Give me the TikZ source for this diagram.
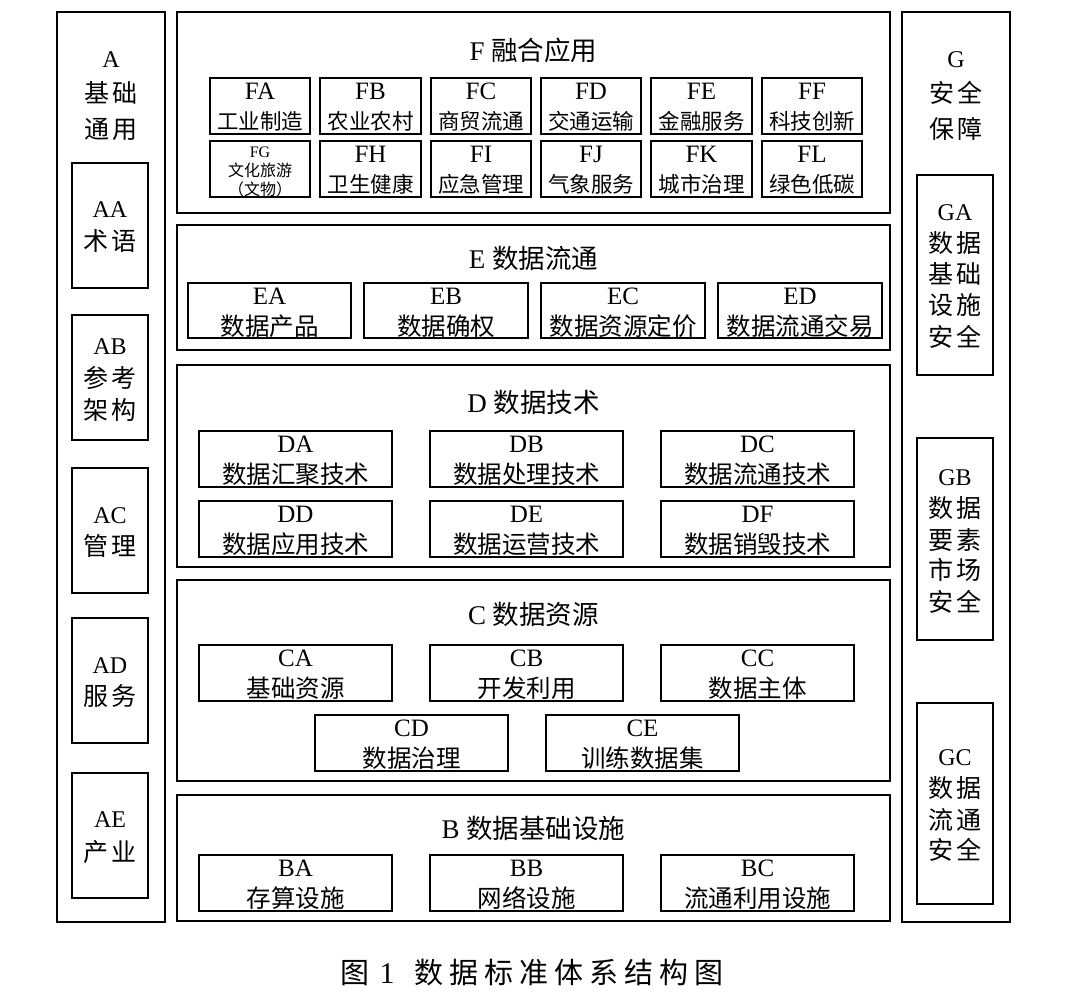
\documentclass[tikz,border=0pt]{standalone}
\usepackage{fontspec}
\setmainfont{Liberation Serif}
\newfontfamily\cjk{Noto Sans CJK SC}
\newcommand\gp{\hspace{3pt}}
\newcommand\tk{\hspace{6pt}}
% box from corners: name, x1, y1, x2, y2, style
\newcommand\mkbox[6]{\node[#6, minimum width={(#4)-(#2)}, minimum height={(#5)-(#3)}] (#1) at ({((#2)+(#4))/2},{((#3)+(#5))/2}) {};}
% sub box: name, x1, y1, x2, y2, code, label, label style
\newcommand\sub[8]{%
  \mkbox{#1}{#2}{#3}{#4}{#5}{innerbox}
  \node[codetxt] (#1-c) at ({((#2)+(#4))/2},{(#3)+13.5}) {#6};
  \node[#8] (#1-l) at ({((#2)+(#4))/2},{(#3)+43.5}) {#7};}
\begin{document}
\begin{tikzpicture}[x=1pt,y=-1pt,
  outerbox/.style={draw, line width=2.4pt, inner sep=0pt, outer sep=0pt},
  innerbox/.style={draw, line width=1.5pt, inner sep=0pt, outer sep=0pt},
  ttl/.style={font=\fontsize{27}{30}\selectfont, inner sep=0pt},
  codetxt/.style={font=\fontsize{25}{26}\selectfont, inner sep=0pt},
  lbl/.style={font=\fontsize{24.5}{28}\cjk, inner sep=0pt},
  lblf/.style={font=\fontsize{21.5}{26}\cjk, inner sep=0pt},
  small/.style={font=\fontsize{16}{18}\selectfont, inner sep=0pt},
  smallc/.style={font=\fontsize{16}{18}\cjk, inner sep=0pt},
  colcode/.style={font=\fontsize{24}{26}\selectfont, inner sep=0pt},
  coltxt/.style={font=\fontsize{25}{28}\cjk, inner sep=0pt},
  captxt/.style={font=\fontsize{30}{32}\selectfont, inner sep=0pt}]
\useasboundingbox (0,0) rectangle (1080,1004);

% ---------- column A ----------
\mkbox{A}{57}{12}{165}{922}{outerbox}
\node[colcode] (A-t1) at (111,60) {A};
\node[coltxt] (A-t2) at (111,93) {基\gp 础};
\node[coltxt] (A-t3) at (111,129) {通\gp 用};

\mkbox{AA}{72}{163}{148}{288}{innerbox}
\node[colcode] (AA-c) at (110,210) {AA};
\node[coltxt] (AA-l) at (110,241) {术\gp 语};

\mkbox{AB}{72}{315}{148}{440}{innerbox}
\node[colcode] (AB-c) at (110,347) {AB};
\node[coltxt] (AB-l1) at (110,378) {参\gp 考};
\node[coltxt] (AB-l2) at (110,410) {架\gp 构};

\mkbox{AC}{72}{468}{148}{593}{innerbox}
\node[colcode] (AC-c) at (110,516) {AC};
\node[coltxt] (AC-l) at (110,546) {管\gp 理};

\mkbox{AD}{72}{618}{148}{743}{innerbox}
\node[colcode] (AD-c) at (110,666) {AD};
\node[coltxt] (AD-l) at (110,696) {服\gp 务};

\mkbox{AE}{72}{773}{148}{898}{innerbox}
\node[colcode] (AE-c) at (110,820) {AE};
\node[coltxt] (AE-l) at (110,852) {产\gp 业};

% ---------- column G ----------
\mkbox{G}{902}{12}{1010}{922}{outerbox}
\node[colcode] (G-t1) at (956,60) {G};
\node[coltxt] (G-t2) at (956,93) {安\gp 全};
\node[coltxt] (G-t3) at (956,129) {保\gp 障};

\mkbox{GA}{917}{175}{993}{375}{innerbox}
\node[colcode] (GA-c) at (955,213) {GA};
\node[coltxt] (GA-l1) at (955,243) {数\gp 据};
\node[coltxt] (GA-l2) at (955,274) {基\gp 础};
\node[coltxt] (GA-l3) at (955,305) {设\gp 施};
\node[coltxt] (GA-l4) at (955,337) {安\gp 全};

\mkbox{GB}{917}{438}{993}{640}{innerbox}
\node[colcode] (GB-c) at (955,478) {GB};
\node[coltxt] (GB-l1) at (955,508) {数\gp 据};
\node[coltxt] (GB-l2) at (955,540) {要\gp 素};
\node[coltxt] (GB-l3) at (955,570) {市\gp 场};
\node[coltxt] (GB-l4) at (955,602) {安\gp 全};

\mkbox{GC}{917}{703}{993}{904}{innerbox}
\node[colcode] (GC-c) at (955,758) {GC};
\node[coltxt] (GC-l1) at (955,788) {数\gp 据};
\node[coltxt] (GC-l2) at (955,820) {流\gp 通};
\node[coltxt] (GC-l3) at (955,850) {安\gp 全};

% ---------- F ----------
\mkbox{F}{177}{12}{890}{213}{outerbox}
\node[ttl] (F-t) at (533.5,50) {F {\fontsize{26.5}{30}\cjk 融合应用}};
\sub{FA}{210}{78}{310}{134}{FA}{工业制造}{lblf}
\sub{FB}{320}{78}{421}{134}{FB}{农业农村}{lblf}
\sub{FC}{431}{78}{531}{134}{FC}{商贸流通}{lblf}
\sub{FD}{541}{78}{641}{134}{FD}{交通运输}{lblf}
\sub{FE}{651}{78}{752}{134}{FE}{金融服务}{lblf}
\sub{FF}{762}{78}{862}{134}{FF}{科技创新}{lblf}
\mkbox{FG}{210}{141}{310}{197}{innerbox}
\node[small] (FG-c) at (260,152) {FG};
\node[smallc] (FG-l1) at (260,170) {文化旅游};
\node[smallc] (FG-l2) at (260,189) {（文物）};
\sub{FH}{320}{141}{421}{197}{FH}{卫生健康}{lblf}
\sub{FI}{431}{141}{531}{197}{FI}{应急管理}{lblf}
\sub{FJ}{541}{141}{641}{197}{FJ}{气象服务}{lblf}
\sub{FK}{651}{141}{752}{197}{FK}{城市治理}{lblf}
\sub{FL}{762}{141}{862}{197}{FL}{绿色低碳}{lblf}

% ---------- E ----------
\mkbox{E}{177}{225}{890}{350}{outerbox}
\node[ttl] (E-t) at (533.5,258) {E {\fontsize{26.5}{30}\cjk 数据流通}};
\sub{EA}{188}{283}{351}{338}{EA}{数据产品}{lbl}
\sub{EB}{364}{283}{528}{338}{EB}{数据确权}{lbl}
\sub{EC}{541}{283}{705}{338}{EC}{数据资源定价}{lbl}
\sub{ED}{718}{283}{882}{338}{ED}{数据流通交易}{lbl}

% ---------- D ----------
\mkbox{D}{177}{365}{890}{567}{outerbox}
\node[ttl] (D-t) at (533.5,402) {D {\fontsize{26.5}{30}\cjk 数据技术}};
\sub{DA}{199}{431}{392}{487}{DA}{数据汇聚技术}{lbl}
\sub{DB}{430}{431}{623}{487}{DB}{数据处理技术}{lbl}
\sub{DC}{661}{431}{854}{487}{DC}{数据流通技术}{lbl}
\sub{DD}{199}{501}{392}{557}{DD}{数据应用技术}{lbl}
\sub{DE}{430}{501}{623}{557}{DE}{数据运营技术}{lbl}
\sub{DF}{661}{501}{854}{557}{DF}{数据销毁技术}{lbl}

% ---------- C ----------
\mkbox{C}{177}{580}{890}{781}{outerbox}
\node[ttl] (C-t) at (533.5,614) {C {\fontsize{26.5}{30}\cjk 数据资源}};
\sub{CA}{199}{645}{392}{701}{CA}{基础资源}{lbl}
\sub{CB}{430}{645}{623}{701}{CB}{开发利用}{lbl}
\sub{CC}{661}{645}{854}{701}{CC}{数据主体}{lbl}
\sub{CD}{315}{715}{508}{771}{CD}{数据治理}{lbl}
\sub{CE}{546}{715}{739}{771}{CE}{训练数据集}{lbl}

% ---------- B ----------
\mkbox{B}{177}{795}{890}{921}{outerbox}
\node[ttl] (B-t) at (533.5,828) {B {\fontsize{26.5}{30}\cjk 数据基础设施}};
\sub{BA}{199}{855}{392}{911}{BA}{存算设施}{lbl}
\sub{BB}{430}{855}{623}{911}{BB}{网络设施}{lbl}
\sub{BC}{661}{855}{854}{911}{BC}{流通利用设施}{lbl}

% ---------- caption ----------
\node[captxt] (caption) at (532,973) {{\fontsize{29}{32}\cjk 图}\hspace{10pt}1\hspace{20pt}{\fontsize{29}{32}\cjk 数\tk 据\tk 标\tk 准\tk 体\tk 系\tk 结\tk 构\tk 图}};
\end{tikzpicture}
\end{document}
